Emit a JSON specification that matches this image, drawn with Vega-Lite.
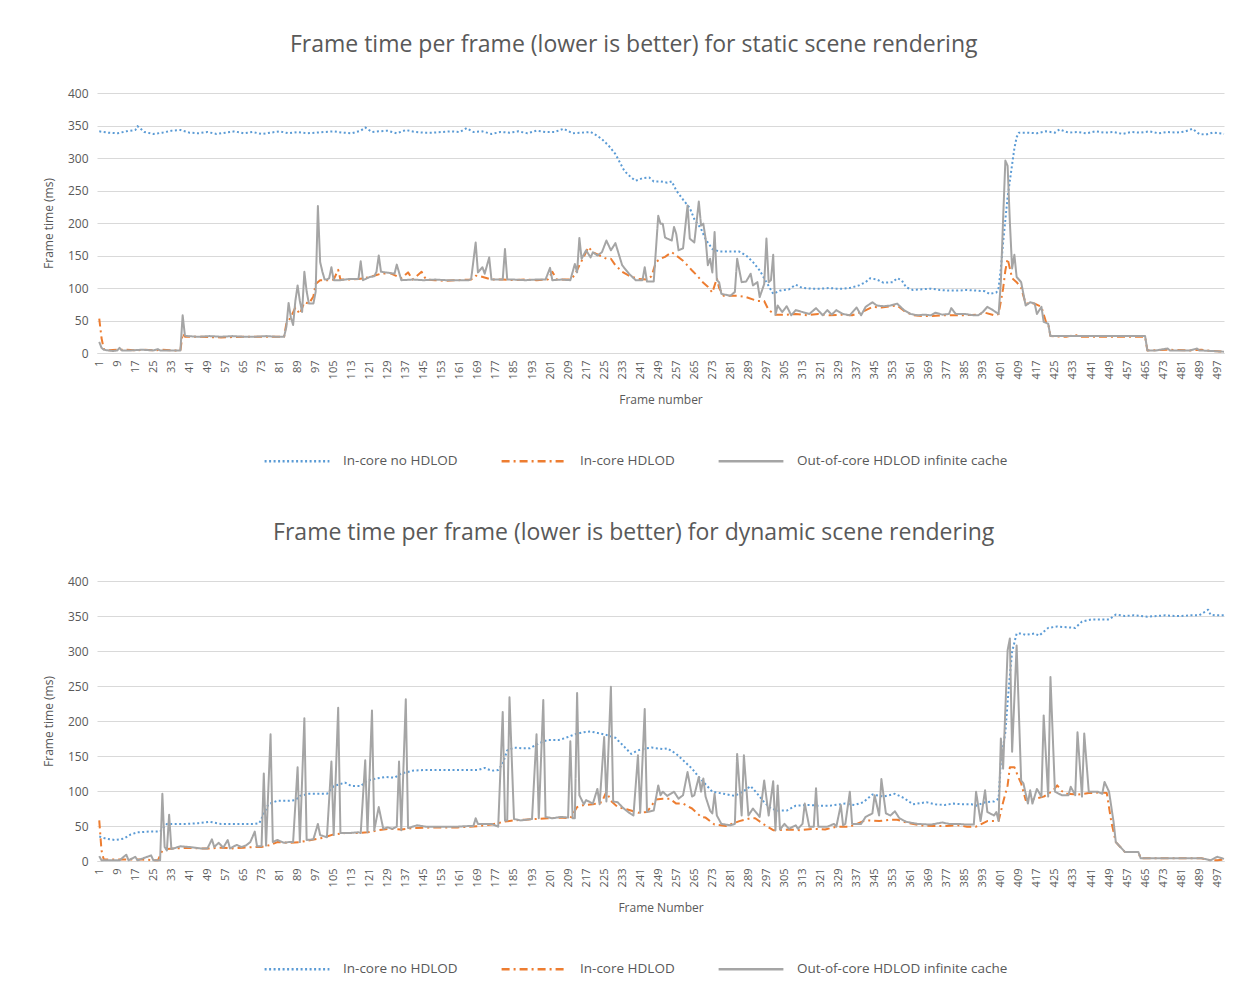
{
"$schema":"https://vega.github.io/schema/vega-lite/v6.json",
"background":"white",
"padding":{"left":42,"top":34,"right":25,"bottom":10},
"spacing":54,
"config":{
 "font":"Open Sans",
 "view":{"stroke":null},
 "title":{"fontSize":23,"fontWeight":"normal","color":"#595959","offset":30,"frame":"bounds"},
 "axis":{"labelColor":"#595959","titleColor":"#595959","labelFontSize":11,"titleFontSize":12,"titleFontWeight":"normal","gridColor":"#d9d9d9","domainColor":"#d9d9d9","ticks":false},
 "axisY":{"labelFontSize":12}
},
"datasets":{
"top":[
{"s":"a","f":1,"v":341},{"s":"a","f":5,"v":339},{"s":"a","f":9,"v":338},{"s":"a","f":13,"v":341},{"s":"a","f":17,"v":343},{"s":"a","f":18,"v":349},{"s":"a","f":21,"v":340},{"s":"a","f":25,"v":337},{"s":"a","f":29,"v":339},{"s":"a","f":33,"v":342},{"s":"a","f":37,"v":343},{"s":"a","f":41,"v":339},{"s":"a","f":45,"v":338},{"s":"a","f":49,"v":340},{"s":"a","f":53,"v":337},{"s":"a","f":57,"v":339},{"s":"a","f":61,"v":341},{"s":"a","f":65,"v":338},{"s":"a","f":69,"v":340},{"s":"a","f":73,"v":337},{"s":"a","f":77,"v":339},{"s":"a","f":81,"v":341},{"s":"a","f":85,"v":338},{"s":"a","f":89,"v":340},{"s":"a","f":93,"v":338},{"s":"a","f":97,"v":339},{"s":"a","f":101,"v":340},{"s":"a","f":105,"v":341},{"s":"a","f":109,"v":339},{"s":"a","f":113,"v":338},{"s":"a","f":117,"v":342},{"s":"a","f":119,"v":347},{"s":"a","f":122,"v":340},{"s":"a","f":125,"v":341},{"s":"a","f":129,"v":342},{"s":"a","f":133,"v":338},{"s":"a","f":137,"v":343},{"s":"a","f":141,"v":340},{"s":"a","f":145,"v":339},{"s":"a","f":149,"v":339},{"s":"a","f":153,"v":340},{"s":"a","f":157,"v":341},{"s":"a","f":161,"v":340},{"s":"a","f":164,"v":346},{"s":"a","f":167,"v":340},{"s":"a","f":171,"v":341},{"s":"a","f":175,"v":337},{"s":"a","f":179,"v":340},{"s":"a","f":183,"v":339},{"s":"a","f":187,"v":341},{"s":"a","f":191,"v":338},{"s":"a","f":195,"v":342},{"s":"a","f":199,"v":340},{"s":"a","f":203,"v":340},{"s":"a","f":207,"v":345},{"s":"a","f":211,"v":338},{"s":"a","f":215,"v":339},{"s":"a","f":219,"v":340},{"s":"a","f":222,"v":334},{"s":"a","f":224,"v":329},{"s":"a","f":227,"v":319},{"s":"a","f":230,"v":306},{"s":"a","f":232,"v":293},{"s":"a","f":234,"v":280},{"s":"a","f":237,"v":270},{"s":"a","f":239,"v":265},{"s":"a","f":242,"v":269},{"s":"a","f":245,"v":270},{"s":"a","f":247,"v":264},{"s":"a","f":250,"v":264},{"s":"a","f":253,"v":262},{"s":"a","f":255,"v":264},{"s":"a","f":257,"v":250},{"s":"a","f":260,"v":236},{"s":"a","f":263,"v":223},{"s":"a","f":265,"v":206},{"s":"a","f":268,"v":191},{"s":"a","f":270,"v":175},{"s":"a","f":273,"v":160},{"s":"a","f":276,"v":156},{"s":"a","f":280,"v":156},{"s":"a","f":285,"v":156},{"s":"a","f":288,"v":150},{"s":"a","f":291,"v":140},{"s":"a","f":294,"v":127},{"s":"a","f":297,"v":109},{"s":"a","f":300,"v":91},{"s":"a","f":303,"v":96},{"s":"a","f":307,"v":98},{"s":"a","f":310,"v":105},{"s":"a","f":313,"v":100},{"s":"a","f":317,"v":99},{"s":"a","f":321,"v":99},{"s":"a","f":325,"v":100},{"s":"a","f":328,"v":99},{"s":"a","f":331,"v":99},{"s":"a","f":334,"v":100},{"s":"a","f":338,"v":104},{"s":"a","f":341,"v":109},{"s":"a","f":343,"v":115},{"s":"a","f":346,"v":113},{"s":"a","f":349,"v":108},{"s":"a","f":353,"v":109},{"s":"a","f":355,"v":115},{"s":"a","f":357,"v":112},{"s":"a","f":359,"v":101},{"s":"a","f":362,"v":97},{"s":"a","f":366,"v":98},{"s":"a","f":370,"v":99},{"s":"a","f":374,"v":97},{"s":"a","f":378,"v":96},{"s":"a","f":382,"v":96},{"s":"a","f":386,"v":97},{"s":"a","f":390,"v":96},{"s":"a","f":394,"v":95},{"s":"a","f":396,"v":91},{"s":"a","f":399,"v":93},{"s":"a","f":400,"v":100},{"s":"a","f":401,"v":130},{"s":"a","f":402,"v":170},{"s":"a","f":403,"v":205},{"s":"a","f":404,"v":240},{"s":"a","f":405,"v":265},{"s":"a","f":406,"v":290},{"s":"a","f":407,"v":315},{"s":"a","f":408,"v":332},{"s":"a","f":409,"v":339},{"s":"a","f":413,"v":339},{"s":"a","f":417,"v":338},{"s":"a","f":421,"v":341},{"s":"a","f":425,"v":339},{"s":"a","f":427,"v":344},{"s":"a","f":431,"v":339},{"s":"a","f":435,"v":340},{"s":"a","f":439,"v":338},{"s":"a","f":443,"v":341},{"s":"a","f":447,"v":339},{"s":"a","f":451,"v":340},{"s":"a","f":455,"v":337},{"s":"a","f":459,"v":340},{"s":"a","f":463,"v":339},{"s":"a","f":467,"v":341},{"s":"a","f":471,"v":338},{"s":"a","f":475,"v":340},{"s":"a","f":479,"v":339},{"s":"a","f":483,"v":341},{"s":"a","f":486,"v":345},{"s":"a","f":489,"v":337},{"s":"a","f":492,"v":336},{"s":"a","f":495,"v":339},{"s":"a","f":498,"v":338},{"s":"a","f":500,"v":337},
{"s":"b","f":1,"v":53},{"s":"b","f":2,"v":23},{"s":"b","f":3,"v":6},{"s":"b","f":5,"v":4},{"s":"b","f":9,"v":5},{"s":"b","f":13,"v":5},{"s":"b","f":17,"v":4},{"s":"b","f":21,"v":5},{"s":"b","f":25,"v":4},{"s":"b","f":29,"v":5},{"s":"b","f":33,"v":4},{"s":"b","f":37,"v":4},{"s":"b","f":38,"v":30},{"s":"b","f":39,"v":25},{"s":"b","f":45,"v":25},{"s":"b","f":55,"v":24},{"s":"b","f":65,"v":25},{"s":"b","f":75,"v":25},{"s":"b","f":83,"v":25},{"s":"b","f":84,"v":45},{"s":"b","f":86,"v":55},{"s":"b","f":88,"v":70},{"s":"b","f":90,"v":60},{"s":"b","f":92,"v":78},{"s":"b","f":94,"v":76},{"s":"b","f":96,"v":87},{"s":"b","f":97,"v":106},{"s":"b","f":99,"v":112},{"s":"b","f":103,"v":112},{"s":"b","f":105,"v":113},{"s":"b","f":107,"v":128},{"s":"b","f":108,"v":113},{"s":"b","f":112,"v":113},{"s":"b","f":116,"v":114},{"s":"b","f":120,"v":116},{"s":"b","f":124,"v":120},{"s":"b","f":126,"v":122},{"s":"b","f":130,"v":123},{"s":"b","f":135,"v":115},{"s":"b","f":138,"v":124},{"s":"b","f":140,"v":113},{"s":"b","f":144,"v":125},{"s":"b","f":146,"v":113},{"s":"b","f":150,"v":112},{"s":"b","f":155,"v":111},{"s":"b","f":160,"v":112},{"s":"b","f":166,"v":113},{"s":"b","f":168,"v":119},{"s":"b","f":170,"v":118},{"s":"b","f":175,"v":113},{"s":"b","f":180,"v":113},{"s":"b","f":185,"v":112},{"s":"b","f":190,"v":113},{"s":"b","f":195,"v":112},{"s":"b","f":200,"v":113},{"s":"b","f":202,"v":125},{"s":"b","f":204,"v":113},{"s":"b","f":210,"v":113},{"s":"b","f":212,"v":120},{"s":"b","f":214,"v":135},{"s":"b","f":216,"v":148},{"s":"b","f":218,"v":163},{"s":"b","f":220,"v":155},{"s":"b","f":223,"v":150},{"s":"b","f":226,"v":145},{"s":"b","f":228,"v":145},{"s":"b","f":230,"v":135},{"s":"b","f":233,"v":125},{"s":"b","f":236,"v":119},{"s":"b","f":240,"v":114},{"s":"b","f":244,"v":113},{"s":"b","f":246,"v":118},{"s":"b","f":248,"v":140},{"s":"b","f":250,"v":145},{"s":"b","f":252,"v":148},{"s":"b","f":255,"v":155},{"s":"b","f":257,"v":150},{"s":"b","f":260,"v":142},{"s":"b","f":264,"v":127},{"s":"b","f":266,"v":120},{"s":"b","f":269,"v":108},{"s":"b","f":271,"v":102},{"s":"b","f":273,"v":93},{"s":"b","f":275,"v":115},{"s":"b","f":276,"v":100},{"s":"b","f":278,"v":88},{"s":"b","f":284,"v":88},{"s":"b","f":288,"v":86},{"s":"b","f":293,"v":80},{"s":"b","f":296,"v":80},{"s":"b","f":298,"v":66},{"s":"b","f":301,"v":59},{"s":"b","f":306,"v":59},{"s":"b","f":310,"v":60},{"s":"b","f":315,"v":58},{"s":"b","f":320,"v":60},{"s":"b","f":325,"v":58},{"s":"b","f":330,"v":59},{"s":"b","f":335,"v":58},{"s":"b","f":340,"v":64},{"s":"b","f":344,"v":71},{"s":"b","f":348,"v":70},{"s":"b","f":352,"v":72},{"s":"b","f":355,"v":73},{"s":"b","f":358,"v":65},{"s":"b","f":362,"v":58},{"s":"b","f":366,"v":57},{"s":"b","f":370,"v":57},{"s":"b","f":375,"v":58},{"s":"b","f":380,"v":58},{"s":"b","f":385,"v":58},{"s":"b","f":390,"v":59},{"s":"b","f":394,"v":62},{"s":"b","f":398,"v":58},{"s":"b","f":400,"v":60},{"s":"b","f":402,"v":99},{"s":"b","f":403,"v":127},{"s":"b","f":404,"v":145},{"s":"b","f":405,"v":130},{"s":"b","f":406,"v":115},{"s":"b","f":408,"v":109},{"s":"b","f":410,"v":100},{"s":"b","f":412,"v":76},{"s":"b","f":416,"v":76},{"s":"b","f":419,"v":71},{"s":"b","f":421,"v":48},{"s":"b","f":422,"v":45},{"s":"b","f":423,"v":26},{"s":"b","f":430,"v":25},{"s":"b","f":434,"v":28},{"s":"b","f":436,"v":25},{"s":"b","f":445,"v":25},{"s":"b","f":455,"v":25},{"s":"b","f":465,"v":25},{"s":"b","f":466,"v":4},{"s":"b","f":475,"v":5},{"s":"b","f":485,"v":4},{"s":"b","f":490,"v":5},{"s":"b","f":495,"v":3},{"s":"b","f":500,"v":2},
{"s":"c","f":1,"v":17},{"s":"c","f":2,"v":8},{"s":"c","f":3,"v":5},{"s":"c","f":5,"v":4},{"s":"c","f":7,"v":3},{"s":"c","f":9,"v":4},{"s":"c","f":10,"v":8},{"s":"c","f":11,"v":4},{"s":"c","f":15,"v":4},{"s":"c","f":20,"v":5},{"s":"c","f":25,"v":4},{"s":"c","f":27,"v":6},{"s":"c","f":28,"v":4},{"s":"c","f":33,"v":4},{"s":"c","f":37,"v":4},{"s":"c","f":38,"v":58},{"s":"c","f":39,"v":27},{"s":"c","f":40,"v":26},{"s":"c","f":45,"v":25},{"s":"c","f":50,"v":26},{"s":"c","f":55,"v":25},{"s":"c","f":60,"v":26},{"s":"c","f":65,"v":25},{"s":"c","f":70,"v":25},{"s":"c","f":75,"v":26},{"s":"c","f":80,"v":25},{"s":"c","f":83,"v":25},{"s":"c","f":84,"v":40},{"s":"c","f":85,"v":77},{"s":"c","f":86,"v":55},{"s":"c","f":87,"v":43},{"s":"c","f":88,"v":80},{"s":"c","f":89,"v":104},{"s":"c","f":90,"v":80},{"s":"c","f":91,"v":63},{"s":"c","f":92,"v":125},{"s":"c","f":93,"v":95},{"s":"c","f":94,"v":76},{"s":"c","f":96,"v":76},{"s":"c","f":97,"v":94},{"s":"c","f":98,"v":226},{"s":"c","f":99,"v":140},{"s":"c","f":100,"v":125},{"s":"c","f":101,"v":113},{"s":"c","f":102,"v":113},{"s":"c","f":103,"v":115},{"s":"c","f":104,"v":132},{"s":"c","f":105,"v":112},{"s":"c","f":108,"v":112},{"s":"c","f":112,"v":114},{"s":"c","f":116,"v":114},{"s":"c","f":117,"v":141},{"s":"c","f":118,"v":112},{"s":"c","f":121,"v":117},{"s":"c","f":123,"v":118},{"s":"c","f":124,"v":125},{"s":"c","f":125,"v":150},{"s":"c","f":126,"v":125},{"s":"c","f":128,"v":124},{"s":"c","f":132,"v":122},{"s":"c","f":133,"v":136},{"s":"c","f":135,"v":112},{"s":"c","f":140,"v":113},{"s":"c","f":145,"v":112},{"s":"c","f":150,"v":113},{"s":"c","f":155,"v":112},{"s":"c","f":160,"v":112},{"s":"c","f":165,"v":112},{"s":"c","f":166,"v":114},{"s":"c","f":168,"v":170},{"s":"c","f":169,"v":124},{"s":"c","f":171,"v":132},{"s":"c","f":172,"v":122},{"s":"c","f":174,"v":147},{"s":"c","f":175,"v":113},{"s":"c","f":180,"v":113},{"s":"c","f":181,"v":160},{"s":"c","f":182,"v":113},{"s":"c","f":185,"v":113},{"s":"c","f":190,"v":112},{"s":"c","f":195,"v":113},{"s":"c","f":199,"v":113},{"s":"c","f":201,"v":131},{"s":"c","f":202,"v":112},{"s":"c","f":206,"v":113},{"s":"c","f":210,"v":112},{"s":"c","f":212,"v":137},{"s":"c","f":213,"v":124},{"s":"c","f":214,"v":177},{"s":"c","f":215,"v":145},{"s":"c","f":217,"v":158},{"s":"c","f":219,"v":147},{"s":"c","f":220,"v":155},{"s":"c","f":222,"v":150},{"s":"c","f":224,"v":155},{"s":"c","f":226,"v":173},{"s":"c","f":228,"v":158},{"s":"c","f":230,"v":169},{"s":"c","f":233,"v":135},{"s":"c","f":236,"v":122},{"s":"c","f":239,"v":112},{"s":"c","f":242,"v":112},{"s":"c","f":243,"v":132},{"s":"c","f":244,"v":110},{"s":"c","f":247,"v":110},{"s":"c","f":249,"v":211},{"s":"c","f":250,"v":199},{"s":"c","f":251,"v":199},{"s":"c","f":252,"v":178},{"s":"c","f":253,"v":176},{"s":"c","f":255,"v":173},{"s":"c","f":256,"v":194},{"s":"c","f":257,"v":183},{"s":"c","f":258,"v":158},{"s":"c","f":260,"v":161},{"s":"c","f":262,"v":227},{"s":"c","f":263,"v":176},{"s":"c","f":265,"v":170},{"s":"c","f":267,"v":233},{"s":"c","f":268,"v":196},{"s":"c","f":269,"v":199},{"s":"c","f":270,"v":176},{"s":"c","f":271,"v":135},{"s":"c","f":272,"v":145},{"s":"c","f":273,"v":124},{"s":"c","f":274,"v":186},{"s":"c","f":275,"v":112},{"s":"c","f":276,"v":109},{"s":"c","f":277,"v":91},{"s":"c","f":281,"v":88},{"s":"c","f":283,"v":94},{"s":"c","f":284,"v":145},{"s":"c","f":286,"v":109},{"s":"c","f":288,"v":110},{"s":"c","f":290,"v":122},{"s":"c","f":291,"v":104},{"s":"c","f":293,"v":109},{"s":"c","f":294,"v":86},{"s":"c","f":296,"v":106},{"s":"c","f":297,"v":176},{"s":"c","f":298,"v":109},{"s":"c","f":299,"v":112},{"s":"c","f":300,"v":151},{"s":"c","f":301,"v":59},{"s":"c","f":302,"v":73},{"s":"c","f":304,"v":63},{"s":"c","f":306,"v":72},{"s":"c","f":308,"v":58},{"s":"c","f":310,"v":66},{"s":"c","f":313,"v":63},{"s":"c","f":316,"v":60},{"s":"c","f":319,"v":69},{"s":"c","f":322,"v":58},{"s":"c","f":324,"v":66},{"s":"c","f":326,"v":59},{"s":"c","f":328,"v":66},{"s":"c","f":331,"v":60},{"s":"c","f":334,"v":58},{"s":"c","f":337,"v":70},{"s":"c","f":339,"v":58},{"s":"c","f":341,"v":71},{"s":"c","f":344,"v":78},{"s":"c","f":346,"v":73},{"s":"c","f":349,"v":72},{"s":"c","f":352,"v":73},{"s":"c","f":355,"v":76},{"s":"c","f":358,"v":66},{"s":"c","f":361,"v":60},{"s":"c","f":364,"v":58},{"s":"c","f":367,"v":59},{"s":"c","f":370,"v":58},{"s":"c","f":372,"v":62},{"s":"c","f":375,"v":59},{"s":"c","f":378,"v":60},{"s":"c","f":379,"v":69},{"s":"c","f":381,"v":60},{"s":"c","f":385,"v":60},{"s":"c","f":389,"v":58},{"s":"c","f":391,"v":58},{"s":"c","f":393,"v":63},{"s":"c","f":395,"v":71},{"s":"c","f":397,"v":67},{"s":"c","f":400,"v":60},{"s":"c","f":401,"v":109},{"s":"c","f":402,"v":206},{"s":"c","f":403,"v":296},{"s":"c","f":404,"v":288},{"s":"c","f":405,"v":201},{"s":"c","f":406,"v":130},{"s":"c","f":407,"v":151},{"s":"c","f":408,"v":117},{"s":"c","f":410,"v":109},{"s":"c","f":412,"v":73},{"s":"c","f":414,"v":78},{"s":"c","f":416,"v":76},{"s":"c","f":417,"v":60},{"s":"c","f":419,"v":71},{"s":"c","f":420,"v":48},{"s":"c","f":422,"v":45},{"s":"c","f":423,"v":26},{"s":"c","f":430,"v":26},{"s":"c","f":440,"v":26},{"s":"c","f":450,"v":26},{"s":"c","f":460,"v":26},{"s":"c","f":465,"v":26},{"s":"c","f":466,"v":4},{"s":"c","f":470,"v":4},{"s":"c","f":475,"v":7},{"s":"c","f":476,"v":4},{"s":"c","f":480,"v":4},{"s":"c","f":485,"v":4},{"s":"c","f":488,"v":7},{"s":"c","f":489,"v":4},{"s":"c","f":495,"v":3},{"s":"c","f":500,"v":2}
],
"bot":[
{"s":"a","f":1,"v":35},{"s":"a","f":2,"v":34},{"s":"a","f":4,"v":32},{"s":"a","f":8,"v":30},{"s":"a","f":12,"v":32},{"s":"a","f":15,"v":38},{"s":"a","f":18,"v":41},{"s":"a","f":23,"v":42},{"s":"a","f":28,"v":42},{"s":"a","f":31,"v":53},{"s":"a","f":35,"v":53},{"s":"a","f":40,"v":53},{"s":"a","f":45,"v":54},{"s":"a","f":50,"v":56},{"s":"a","f":55,"v":53},{"s":"a","f":60,"v":53},{"s":"a","f":65,"v":53},{"s":"a","f":70,"v":53},{"s":"a","f":72,"v":54},{"s":"a","f":76,"v":81},{"s":"a","f":80,"v":86},{"s":"a","f":85,"v":86},{"s":"a","f":88,"v":87},{"s":"a","f":90,"v":93},{"s":"a","f":94,"v":96},{"s":"a","f":98,"v":96},{"s":"a","f":102,"v":96},{"s":"a","f":105,"v":107},{"s":"a","f":110,"v":112},{"s":"a","f":113,"v":107},{"s":"a","f":117,"v":107},{"s":"a","f":120,"v":115},{"s":"a","f":124,"v":118},{"s":"a","f":128,"v":120},{"s":"a","f":132,"v":119},{"s":"a","f":135,"v":125},{"s":"a","f":140,"v":129},{"s":"a","f":145,"v":130},{"s":"a","f":150,"v":130},{"s":"a","f":155,"v":130},{"s":"a","f":160,"v":130},{"s":"a","f":165,"v":130},{"s":"a","f":169,"v":130},{"s":"a","f":172,"v":133},{"s":"a","f":175,"v":129},{"s":"a","f":178,"v":130},{"s":"a","f":180,"v":139},{"s":"a","f":182,"v":158},{"s":"a","f":185,"v":162},{"s":"a","f":189,"v":161},{"s":"a","f":192,"v":161},{"s":"a","f":196,"v":168},{"s":"a","f":200,"v":173},{"s":"a","f":205,"v":173},{"s":"a","f":208,"v":176},{"s":"a","f":212,"v":181},{"s":"a","f":216,"v":184},{"s":"a","f":219,"v":185},{"s":"a","f":222,"v":183},{"s":"a","f":226,"v":180},{"s":"a","f":230,"v":176},{"s":"a","f":234,"v":163},{"s":"a","f":237,"v":153},{"s":"a","f":240,"v":158},{"s":"a","f":242,"v":160},{"s":"a","f":246,"v":162},{"s":"a","f":251,"v":160},{"s":"a","f":253,"v":161},{"s":"a","f":257,"v":153},{"s":"a","f":260,"v":144},{"s":"a","f":264,"v":132},{"s":"a","f":267,"v":120},{"s":"a","f":271,"v":106},{"s":"a","f":273,"v":99},{"s":"a","f":278,"v":96},{"s":"a","f":283,"v":93},{"s":"a","f":287,"v":100},{"s":"a","f":290,"v":107},{"s":"a","f":293,"v":96},{"s":"a","f":296,"v":84},{"s":"a","f":299,"v":75},{"s":"a","f":302,"v":72},{"s":"a","f":306,"v":72},{"s":"a","f":310,"v":79},{"s":"a","f":316,"v":80},{"s":"a","f":320,"v":79},{"s":"a","f":325,"v":79},{"s":"a","f":332,"v":82},{"s":"a","f":336,"v":80},{"s":"a","f":340,"v":84},{"s":"a","f":344,"v":95},{"s":"a","f":349,"v":92},{"s":"a","f":354,"v":96},{"s":"a","f":358,"v":90},{"s":"a","f":362,"v":81},{"s":"a","f":368,"v":84},{"s":"a","f":372,"v":81},{"s":"a","f":376,"v":80},{"s":"a","f":380,"v":82},{"s":"a","f":384,"v":81},{"s":"a","f":388,"v":81},{"s":"a","f":390,"v":79},{"s":"a","f":394,"v":84},{"s":"a","f":398,"v":85},{"s":"a","f":400,"v":89},{"s":"a","f":401,"v":142},{"s":"a","f":403,"v":184},{"s":"a","f":404,"v":227},{"s":"a","f":405,"v":265},{"s":"a","f":406,"v":299},{"s":"a","f":408,"v":325},{"s":"a","f":410,"v":325},{"s":"a","f":412,"v":323},{"s":"a","f":416,"v":325},{"s":"a","f":418,"v":322},{"s":"a","f":422,"v":333},{"s":"a","f":426,"v":335},{"s":"a","f":430,"v":334},{"s":"a","f":434,"v":333},{"s":"a","f":437,"v":342},{"s":"a","f":441,"v":345},{"s":"a","f":445,"v":345},{"s":"a","f":449,"v":345},{"s":"a","f":452,"v":352},{"s":"a","f":456,"v":350},{"s":"a","f":460,"v":351},{"s":"a","f":466,"v":349},{"s":"a","f":470,"v":350},{"s":"a","f":474,"v":351},{"s":"a","f":478,"v":350},{"s":"a","f":481,"v":350},{"s":"a","f":485,"v":351},{"s":"a","f":489,"v":351},{"s":"a","f":493,"v":359},{"s":"a","f":494,"v":352},{"s":"a","f":496,"v":351},{"s":"a","f":500,"v":351},
{"s":"b","f":1,"v":58},{"s":"b","f":2,"v":15},{"s":"b","f":3,"v":2},{"s":"b","f":10,"v":2},{"s":"b","f":20,"v":2},{"s":"b","f":27,"v":1},{"s":"b","f":29,"v":15},{"s":"b","f":31,"v":17},{"s":"b","f":35,"v":18},{"s":"b","f":40,"v":19},{"s":"b","f":45,"v":18},{"s":"b","f":50,"v":18},{"s":"b","f":55,"v":19},{"s":"b","f":60,"v":18},{"s":"b","f":65,"v":19},{"s":"b","f":70,"v":20},{"s":"b","f":73,"v":20},{"s":"b","f":77,"v":23},{"s":"b","f":80,"v":27},{"s":"b","f":85,"v":26},{"s":"b","f":90,"v":27},{"s":"b","f":95,"v":30},{"s":"b","f":100,"v":33},{"s":"b","f":105,"v":38},{"s":"b","f":110,"v":40},{"s":"b","f":115,"v":40},{"s":"b","f":120,"v":41},{"s":"b","f":125,"v":44},{"s":"b","f":130,"v":46},{"s":"b","f":135,"v":45},{"s":"b","f":140,"v":47},{"s":"b","f":150,"v":48},{"s":"b","f":160,"v":48},{"s":"b","f":170,"v":50},{"s":"b","f":175,"v":52},{"s":"b","f":178,"v":54},{"s":"b","f":180,"v":56},{"s":"b","f":185,"v":58},{"s":"b","f":190,"v":59},{"s":"b","f":195,"v":60},{"s":"b","f":200,"v":61},{"s":"b","f":205,"v":62},{"s":"b","f":210,"v":61},{"s":"b","f":213,"v":77},{"s":"b","f":216,"v":80},{"s":"b","f":220,"v":81},{"s":"b","f":224,"v":84},{"s":"b","f":226,"v":99},{"s":"b","f":228,"v":86},{"s":"b","f":231,"v":77},{"s":"b","f":235,"v":74},{"s":"b","f":240,"v":69},{"s":"b","f":244,"v":70},{"s":"b","f":248,"v":88},{"s":"b","f":251,"v":89},{"s":"b","f":254,"v":89},{"s":"b","f":257,"v":82},{"s":"b","f":260,"v":82},{"s":"b","f":264,"v":75},{"s":"b","f":268,"v":63},{"s":"b","f":270,"v":62},{"s":"b","f":274,"v":52},{"s":"b","f":279,"v":50},{"s":"b","f":285,"v":57},{"s":"b","f":290,"v":61},{"s":"b","f":292,"v":61},{"s":"b","f":296,"v":52},{"s":"b","f":300,"v":44},{"s":"b","f":302,"v":44},{"s":"b","f":307,"v":45},{"s":"b","f":312,"v":44},{"s":"b","f":318,"v":46},{"s":"b","f":323,"v":45},{"s":"b","f":328,"v":49},{"s":"b","f":334,"v":49},{"s":"b","f":340,"v":57},{"s":"b","f":343,"v":58},{"s":"b","f":347,"v":57},{"s":"b","f":352,"v":59},{"s":"b","f":355,"v":59},{"s":"b","f":359,"v":55},{"s":"b","f":365,"v":51},{"s":"b","f":371,"v":50},{"s":"b","f":377,"v":50},{"s":"b","f":382,"v":51},{"s":"b","f":386,"v":49},{"s":"b","f":390,"v":49},{"s":"b","f":395,"v":57},{"s":"b","f":400,"v":57},{"s":"b","f":402,"v":84},{"s":"b","f":404,"v":108},{"s":"b","f":405,"v":134},{"s":"b","f":407,"v":134},{"s":"b","f":409,"v":118},{"s":"b","f":410,"v":111},{"s":"b","f":412,"v":87},{"s":"b","f":415,"v":88},{"s":"b","f":420,"v":92},{"s":"b","f":424,"v":100},{"s":"b","f":426,"v":108},{"s":"b","f":428,"v":100},{"s":"b","f":430,"v":96},{"s":"b","f":435,"v":95},{"s":"b","f":440,"v":97},{"s":"b","f":445,"v":98},{"s":"b","f":448,"v":97},{"s":"b","f":450,"v":56},{"s":"b","f":452,"v":27},{"s":"b","f":454,"v":20},{"s":"b","f":456,"v":13},{"s":"b","f":462,"v":13},{"s":"b","f":463,"v":4},{"s":"b","f":470,"v":4},{"s":"b","f":480,"v":4},{"s":"b","f":490,"v":4},{"s":"b","f":494,"v":1},{"s":"b","f":497,"v":1},{"s":"b","f":500,"v":2},
{"s":"c","f":1,"v":7},{"s":"c","f":2,"v":1},{"s":"c","f":5,"v":1},{"s":"c","f":10,"v":1},{"s":"c","f":13,"v":9},{"s":"c","f":14,"v":1},{"s":"c","f":17,"v":6},{"s":"c","f":18,"v":1},{"s":"c","f":24,"v":8},{"s":"c","f":25,"v":1},{"s":"c","f":28,"v":1},{"s":"c","f":29,"v":96},{"s":"c","f":30,"v":20},{"s":"c","f":31,"v":15},{"s":"c","f":32,"v":66},{"s":"c","f":33,"v":17},{"s":"c","f":37,"v":21},{"s":"c","f":41,"v":20},{"s":"c","f":46,"v":18},{"s":"c","f":49,"v":18},{"s":"c","f":51,"v":31},{"s":"c","f":52,"v":20},{"s":"c","f":54,"v":26},{"s":"c","f":56,"v":19},{"s":"c","f":58,"v":30},{"s":"c","f":59,"v":18},{"s":"c","f":62,"v":23},{"s":"c","f":64,"v":20},{"s":"c","f":66,"v":22},{"s":"c","f":68,"v":27},{"s":"c","f":70,"v":42},{"s":"c","f":71,"v":21},{"s":"c","f":73,"v":21},{"s":"c","f":74,"v":125},{"s":"c","f":75,"v":22},{"s":"c","f":77,"v":181},{"s":"c","f":78,"v":27},{"s":"c","f":80,"v":30},{"s":"c","f":83,"v":26},{"s":"c","f":85,"v":27},{"s":"c","f":87,"v":27},{"s":"c","f":89,"v":134},{"s":"c","f":90,"v":27},{"s":"c","f":92,"v":204},{"s":"c","f":93,"v":30},{"s":"c","f":96,"v":31},{"s":"c","f":98,"v":53},{"s":"c","f":99,"v":37},{"s":"c","f":102,"v":34},{"s":"c","f":104,"v":142},{"s":"c","f":105,"v":37},{"s":"c","f":107,"v":219},{"s":"c","f":108,"v":40},{"s":"c","f":112,"v":40},{"s":"c","f":116,"v":41},{"s":"c","f":117,"v":40},{"s":"c","f":119,"v":144},{"s":"c","f":120,"v":41},{"s":"c","f":122,"v":215},{"s":"c","f":123,"v":44},{"s":"c","f":125,"v":77},{"s":"c","f":127,"v":46},{"s":"c","f":129,"v":48},{"s":"c","f":131,"v":46},{"s":"c","f":133,"v":49},{"s":"c","f":134,"v":142},{"s":"c","f":135,"v":44},{"s":"c","f":137,"v":231},{"s":"c","f":138,"v":47},{"s":"c","f":142,"v":51},{"s":"c","f":146,"v":49},{"s":"c","f":150,"v":49},{"s":"c","f":155,"v":49},{"s":"c","f":160,"v":49},{"s":"c","f":165,"v":50},{"s":"c","f":167,"v":50},{"s":"c","f":168,"v":61},{"s":"c","f":169,"v":53},{"s":"c","f":175,"v":53},{"s":"c","f":178,"v":49},{"s":"c","f":180,"v":213},{"s":"c","f":181,"v":58},{"s":"c","f":182,"v":58},{"s":"c","f":183,"v":234},{"s":"c","f":185,"v":60},{"s":"c","f":188,"v":58},{"s":"c","f":193,"v":60},{"s":"c","f":195,"v":181},{"s":"c","f":196,"v":61},{"s":"c","f":198,"v":230},{"s":"c","f":199,"v":63},{"s":"c","f":202,"v":61},{"s":"c","f":206,"v":63},{"s":"c","f":209,"v":62},{"s":"c","f":210,"v":171},{"s":"c","f":211,"v":61},{"s":"c","f":212,"v":61},{"s":"c","f":213,"v":240},{"s":"c","f":214,"v":94},{"s":"c","f":216,"v":81},{"s":"c","f":217,"v":87},{"s":"c","f":220,"v":82},{"s":"c","f":222,"v":103},{"s":"c","f":223,"v":81},{"s":"c","f":225,"v":177},{"s":"c","f":226,"v":85},{"s":"c","f":228,"v":249},{"s":"c","f":229,"v":85},{"s":"c","f":231,"v":84},{"s":"c","f":233,"v":77},{"s":"c","f":236,"v":69},{"s":"c","f":238,"v":65},{"s":"c","f":240,"v":151},{"s":"c","f":241,"v":69},{"s":"c","f":243,"v":217},{"s":"c","f":244,"v":70},{"s":"c","f":247,"v":72},{"s":"c","f":249,"v":108},{"s":"c","f":250,"v":94},{"s":"c","f":251,"v":99},{"s":"c","f":253,"v":93},{"s":"c","f":256,"v":99},{"s":"c","f":258,"v":89},{"s":"c","f":260,"v":94},{"s":"c","f":262,"v":127},{"s":"c","f":264,"v":92},{"s":"c","f":265,"v":94},{"s":"c","f":267,"v":120},{"s":"c","f":268,"v":99},{"s":"c","f":269,"v":118},{"s":"c","f":270,"v":92},{"s":"c","f":272,"v":72},{"s":"c","f":273,"v":68},{"s":"c","f":274,"v":96},{"s":"c","f":275,"v":65},{"s":"c","f":277,"v":53},{"s":"c","f":281,"v":51},{"s":"c","f":283,"v":53},{"s":"c","f":284,"v":153},{"s":"c","f":286,"v":65},{"s":"c","f":287,"v":151},{"s":"c","f":289,"v":65},{"s":"c","f":291,"v":75},{"s":"c","f":294,"v":63},{"s":"c","f":296,"v":115},{"s":"c","f":298,"v":65},{"s":"c","f":300,"v":114},{"s":"c","f":301,"v":44},{"s":"c","f":302,"v":108},{"s":"c","f":303,"v":45},{"s":"c","f":305,"v":53},{"s":"c","f":307,"v":46},{"s":"c","f":310,"v":51},{"s":"c","f":311,"v":46},{"s":"c","f":313,"v":53},{"s":"c","f":314,"v":82},{"s":"c","f":316,"v":49},{"s":"c","f":318,"v":49},{"s":"c","f":319,"v":104},{"s":"c","f":320,"v":49},{"s":"c","f":324,"v":49},{"s":"c","f":327,"v":53},{"s":"c","f":328,"v":49},{"s":"c","f":330,"v":80},{"s":"c","f":331,"v":51},{"s":"c","f":332,"v":53},{"s":"c","f":334,"v":99},{"s":"c","f":335,"v":53},{"s":"c","f":339,"v":53},{"s":"c","f":341,"v":63},{"s":"c","f":344,"v":68},{"s":"c","f":345,"v":94},{"s":"c","f":347,"v":65},{"s":"c","f":348,"v":117},{"s":"c","f":350,"v":68},{"s":"c","f":352,"v":65},{"s":"c","f":354,"v":71},{"s":"c","f":356,"v":61},{"s":"c","f":359,"v":56},{"s":"c","f":364,"v":53},{"s":"c","f":370,"v":52},{"s":"c","f":375,"v":55},{"s":"c","f":378,"v":53},{"s":"c","f":382,"v":53},{"s":"c","f":386,"v":52},{"s":"c","f":389,"v":52},{"s":"c","f":390,"v":99},{"s":"c","f":392,"v":57},{"s":"c","f":394,"v":101},{"s":"c","f":395,"v":70},{"s":"c","f":398,"v":65},{"s":"c","f":399,"v":70},{"s":"c","f":400,"v":57},{"s":"c","f":401,"v":175},{"s":"c","f":402,"v":132},{"s":"c","f":404,"v":301},{"s":"c","f":405,"v":318},{"s":"c","f":406,"v":156},{"s":"c","f":408,"v":308},{"s":"c","f":410,"v":115},{"s":"c","f":411,"v":111},{"s":"c","f":413,"v":82},{"s":"c","f":414,"v":101},{"s":"c","f":415,"v":82},{"s":"c","f":417,"v":103},{"s":"c","f":419,"v":92},{"s":"c","f":420,"v":208},{"s":"c","f":422,"v":92},{"s":"c","f":423,"v":263},{"s":"c","f":425,"v":99},{"s":"c","f":428,"v":94},{"s":"c","f":431,"v":94},{"s":"c","f":432,"v":106},{"s":"c","f":434,"v":94},{"s":"c","f":435,"v":184},{"s":"c","f":437,"v":92},{"s":"c","f":438,"v":182},{"s":"c","f":440,"v":99},{"s":"c","f":444,"v":99},{"s":"c","f":446,"v":96},{"s":"c","f":447,"v":113},{"s":"c","f":449,"v":99},{"s":"c","f":451,"v":56},{"s":"c","f":452,"v":27},{"s":"c","f":454,"v":20},{"s":"c","f":456,"v":13},{"s":"c","f":462,"v":13},{"s":"c","f":463,"v":4},{"s":"c","f":474,"v":4},{"s":"c","f":490,"v":4},{"s":"c","f":494,"v":1},{"s":"c","f":497,"v":6},{"s":"c","f":500,"v":3}
]
},
"vconcat":[
{
 "title":"Frame time per frame (lower is better) for static scene rendering",
 "width":1127,"height":260,
 "data":{"name":"top"},
 "mark":{"type":"line","strokeJoin":"round"},
 "encoding":{
  "x":{"field":"f","type":"quantitative","scale":{"domain":[0,500],"nice":false,"zero":false},"axis":{"values":[1,9,17,25,33,41,49,57,65,73,81,89,97,105,113,121,129,137,145,153,161,169,177,185,193,201,209,217,225,233,241,249,257,265,273,281,289,297,305,313,321,329,337,345,353,361,369,377,385,393,401,409,417,425,433,441,449,457,465,473,481,489,497],"labelAngle":-90,"labelAlign":"right","labelBaseline":"middle","grid":false,"title":"Frame number","labelPadding":7,"titlePadding":16,"labelFlush":false,"labelOverlap":false}},
  "y":{"field":"v","type":"quantitative","scale":{"domain":[0,400],"nice":false},"axis":{"values":[0,50,100,150,200,250,300,350,400],"domain":false,"title":"Frame time (ms)","labelPadding":9,"titlePadding":12}},
  "color":{"field":"s","type":"nominal","scale":{"domain":["a","b","c"],"range":["#5B9BD5","#ED7D31","#A5A5A5"]},"legend":{"title":null,"orient":"none","legendX":166,"legendY":334,"direction":"horizontal","symbolType":"stroke","symbolSize":4200,"symbolStrokeWidth":2.5,"labelFontSize":13.5,"labelColor":"#595959","labelOffset":12,"labelLimit":0,"columnPadding":38,"labelExpr":"datum.label == 'a' ? 'In-core no HDLOD' : datum.label == 'b' ? 'In-core HDLOD' : 'Out-of-core HDLOD infinite cache'"}},
  "strokeDash":{"field":"s","type":"nominal","scale":{"domain":["a","b","c"],"range":[[2,2.5],[8,4,2,4],[1,0]]},"legend":{"title":null,"orient":"none","legendX":166,"legendY":334,"direction":"horizontal","symbolType":"stroke","symbolSize":4200,"symbolStrokeWidth":2.5,"labelFontSize":13.5,"labelColor":"#595959","labelOffset":12,"labelLimit":0,"columnPadding":38,"labelExpr":"datum.label == 'a' ? 'In-core no HDLOD' : datum.label == 'b' ? 'In-core HDLOD' : 'Out-of-core HDLOD infinite cache'"}}
 }
},
{
 "title":"Frame time per frame (lower is better) for dynamic scene rendering",
 "width":1127,"height":280,
 "data":{"name":"bot"},
 "mark":{"type":"line","strokeJoin":"round"},
 "encoding":{
  "x":{"field":"f","type":"quantitative","scale":{"domain":[0,500],"nice":false,"zero":false},"axis":{"values":[1,9,17,25,33,41,49,57,65,73,81,89,97,105,113,121,129,137,145,153,161,169,177,185,193,201,209,217,225,233,241,249,257,265,273,281,289,297,305,313,321,329,337,345,353,361,369,377,385,393,401,409,417,425,433,441,449,457,465,473,481,489,497],"labelAngle":-90,"labelAlign":"right","labelBaseline":"middle","grid":false,"title":"Frame Number","labelPadding":7,"titlePadding":16,"labelFlush":false,"labelOverlap":false}},
  "y":{"field":"v","type":"quantitative","scale":{"domain":[0,400],"nice":false},"axis":{"values":[0,50,100,150,200,250,300,350,400],"domain":false,"title":"Frame time (ms)","labelPadding":9,"titlePadding":12}},
  "color":{"field":"s","type":"nominal","scale":{"domain":["a","b","c"],"range":["#5B9BD5","#ED7D31","#A5A5A5"]},"legend":{"title":null,"orient":"none","legendX":166,"legendY":354,"direction":"horizontal","symbolType":"stroke","symbolSize":4200,"symbolStrokeWidth":2.5,"labelFontSize":13.5,"labelColor":"#595959","labelOffset":12,"labelLimit":0,"columnPadding":38,"labelExpr":"datum.label == 'a' ? 'In-core no HDLOD' : datum.label == 'b' ? 'In-core HDLOD' : 'Out-of-core HDLOD infinite cache'"}},
  "strokeDash":{"field":"s","type":"nominal","scale":{"domain":["a","b","c"],"range":[[2,2.5],[8,4,2,4],[1,0]]},"legend":{"title":null,"orient":"none","legendX":166,"legendY":354,"direction":"horizontal","symbolType":"stroke","symbolSize":4200,"symbolStrokeWidth":2.5,"labelFontSize":13.5,"labelColor":"#595959","labelOffset":12,"labelLimit":0,"columnPadding":38,"labelExpr":"datum.label == 'a' ? 'In-core no HDLOD' : datum.label == 'b' ? 'In-core HDLOD' : 'Out-of-core HDLOD infinite cache'"}}
 }
}
],
"resolve":{"scale":{"color":"independent","strokeDash":"independent"},"legend":{"color":"independent","strokeDash":"independent"}}
}
